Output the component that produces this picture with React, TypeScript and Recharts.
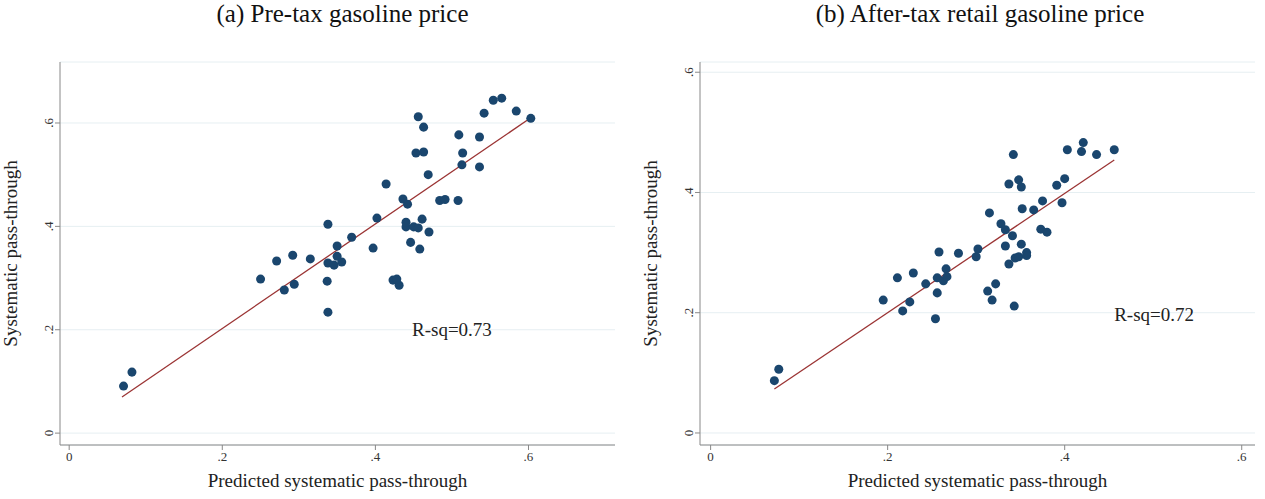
import React from "react";
import { ScatterChart, Scatter, XAxis, YAxis, CartesianGrid, ReferenceDot } from "recharts";

const ticks = [0, 0.2, 0.4, 0.6];
const fmt = (v: number) => (v === 0 ? "0" : String(v).replace(/^0/, ""));

// panel (a): predicted vs systematic pass-through (pre-tax)
const preTax = [
  [0.071, 0.091], [0.082, 0.118], [0.25, 0.298], [0.271, 0.333], [0.281, 0.277], [0.292, 0.344],
  [0.294, 0.288], [0.315, 0.337], [0.337, 0.294], [0.338, 0.234], [0.338, 0.404], [0.338, 0.329],
  [0.346, 0.325], [0.35, 0.362], [0.35, 0.342], [0.369, 0.379], [0.397, 0.358], [0.402, 0.416],
  [0.414, 0.482], [0.423, 0.296], [0.431, 0.286], [0.436, 0.453], [0.44, 0.399], [0.44, 0.408],
  [0.442, 0.443], [0.446, 0.369], [0.45, 0.399], [0.453, 0.542], [0.456, 0.612], [0.456, 0.397],
  [0.458, 0.356], [0.461, 0.414], [0.463, 0.592], [0.463, 0.544], [0.469, 0.5], [0.47, 0.389],
  [0.484, 0.45], [0.491, 0.452], [0.508, 0.45], [0.513, 0.519], [0.509, 0.577], [0.514, 0.542],
  [0.536, 0.573], [0.536, 0.515], [0.542, 0.619], [0.554, 0.644], [0.565, 0.648], [0.584, 0.623],
  [0.603, 0.609], [0.356, 0.331], [0.428, 0.298],
].map(([x, y]) => ({ x, y }));
const preTaxFit = [{ x: 0.069, y: 0.07 }, { x: 0.603, y: 0.61 }];

// panel (b): after-tax retail
const afterTax = [
  [0.072, 0.087], [0.077, 0.106], [0.195, 0.221], [0.211, 0.258], [0.217, 0.203], [0.225, 0.218],
  [0.229, 0.266], [0.243, 0.248], [0.254, 0.19], [0.256, 0.233], [0.256, 0.258], [0.258, 0.301],
  [0.263, 0.253], [0.266, 0.273], [0.267, 0.26], [0.28, 0.299], [0.3, 0.293], [0.302, 0.306],
  [0.313, 0.236], [0.315, 0.366], [0.318, 0.221], [0.322, 0.248], [0.328, 0.348], [0.333, 0.338],
  [0.333, 0.311], [0.337, 0.281], [0.341, 0.328], [0.343, 0.211], [0.342, 0.463], [0.337, 0.414],
  [0.344, 0.291], [0.348, 0.293], [0.348, 0.421], [0.351, 0.409], [0.351, 0.314], [0.352, 0.373],
  [0.357, 0.3], [0.357, 0.295], [0.365, 0.371], [0.373, 0.339], [0.375, 0.386], [0.38, 0.334],
  [0.391, 0.412], [0.397, 0.383], [0.4, 0.423], [0.403, 0.471], [0.419, 0.468], [0.421, 0.483],
  [0.436, 0.463], [0.456, 0.471],
].map(([x, y]) => ({ x, y }));
const afterTaxFit = [{ x: 0.072, y: 0.073 }, { x: 0.456, y: 0.454 }];

const serif = "Liberation Serif";

const YTick = (props: any) => {
  const { x, y, payload } = props;
  return (
    <text x={x} y={y} transform={`rotate(-90 ${x} ${y})`} textAnchor="middle" fontSize={13} fill="#333" fontFamily={serif}>
      {fmt(payload.value)}
    </text>
  );
};

function Panel(props: {
  title: string; data: any[]; fit: any[]; xDomain: number[]; yDomain: number[]; rsq: string; rsqAt: number[]; left: number; width: number;
}) {
  const { title, data, fit, xDomain, yDomain, rsq, rsqAt, left, width } = props;
  return (
    <div style={{ position: "absolute", left, top: 0, width, height: 499 }}>
      <div style={{ position: "absolute", left: 60, width: width - 65, top: 0, textAlign: "center", fontFamily: serif, fontSize: 25, color: "#111" }}>
        {title}
      </div>
      <ScatterChart width={width} height={499} margin={{ top: 62, right: width - 615, bottom: 24, left: 20 }}>
        <CartesianGrid horizontal vertical={false} stroke="#e6eff2" />
        <XAxis type="number" dataKey="x" domain={xDomain} ticks={ticks} tickFormatter={fmt} allowDataOverflow
          height={30} stroke="#888" tick={{ fill: "#333", fontSize: 13, fontFamily: serif }} tickSize={5}
          label={{ value: "Predicted systematic pass-through", position: "insideBottom", offset: -12, fontSize: 19, fontFamily: serif, fill: "#222" }} />
        <YAxis type="number" dataKey="y" domain={yDomain} ticks={ticks} allowDataOverflow width={40} stroke="#888"
          tick={<YTick />} tickSize={5}
          label={{ value: "Systematic pass-through", angle: -90, position: "insideLeft", offset: -12, dx: 2, fontSize: 19, fontFamily: serif, fill: "#222", style: { textAnchor: "middle" } }} />
        <Scatter data={fit} line={{ stroke: "#9b3434", strokeWidth: 1.3 }} shape={() => null} isAnimationActive={false} />
        <Scatter data={data} fill="#1a466e" shape="circle" isAnimationActive={false}
          {...({ r: 5 } as any)} />
        <ReferenceDot x={rsqAt[0]} y={rsqAt[1]} r={0} stroke="none"
          label={{ value: rsq, position: "center", fontSize: 19, fontFamily: serif, fill: "#222" }} />
      </ScatterChart>
    </div>
  );
}

export default function App() {
  return (
    <div style={{ position: "absolute", left: 0, top: 0, width: 1265, height: 499, background: "#fff" }}>
      <Panel title="(a) Pre-tax gasoline price" data={preTax} fit={preTaxFit} xDomain={[-0.012, 0.713]} yDomain={[-0.023, 0.718]}
        rsq="R-sq=0.73" rsqAt={[0.5, 0.2]} left={0} width={630} />
      <Panel title="(b) After-tax retail gasoline price" data={afterTax} fit={afterTaxFit} xDomain={[-0.012, 0.615]} yDomain={[-0.02, 0.617]}
        rsq="R-sq=0.72" rsqAt={[0.501, 0.198]} left={640} width={625} />
    </div>
  );
}
